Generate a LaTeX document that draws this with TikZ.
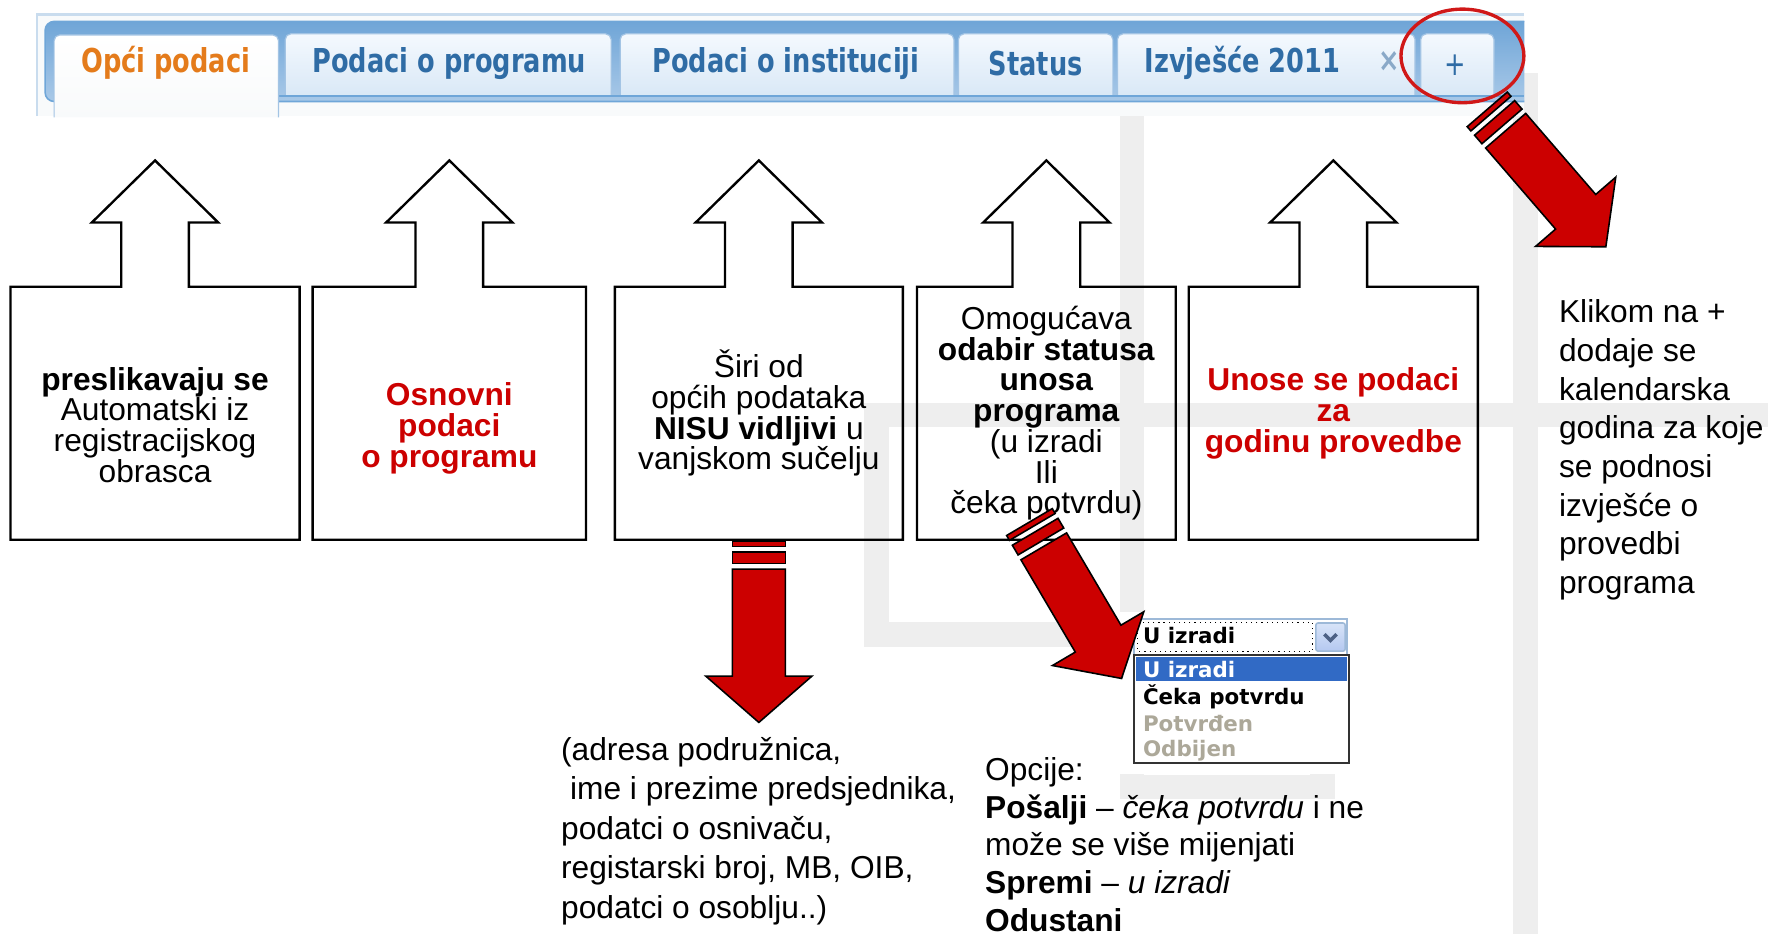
\documentclass[tikz,border=0pt]{standalone}
\usepackage{fontspec}
\setmainfont{Liberation Sans}
\newfontfamily\tabfont[FakeStretch=0.78]{DejaVu Sans}
\newfontfamily\listfont{DejaVu Sans}
\usetikzlibrary{shapes.geometric}
\definecolor{cred}{HTML}{CC0000}
\definecolor{ringred}{HTML}{D01818}
\definecolor{wmgrey}{HTML}{EEEEEE}
\definecolor{scrbg}{HTML}{F8FAFB}
\definecolor{framebl}{HTML}{C9DCEE}
\definecolor{striptop}{HTML}{6FA5D7}
\definecolor{stripbot}{HTML}{A9C9E8}
\definecolor{tabtop}{HTML}{F4F9FE}
\definecolor{tabbot}{HTML}{D9E8F6}
\definecolor{tabedge}{HTML}{A3C4E4}
\definecolor{tabline}{HTML}{6FA6D8}
\definecolor{tabblue}{HTML}{2F6CA5}
\definecolor{taborange}{HTML}{E47B1B}
\definecolor{closegrey}{HTML}{8AA9C8}
\definecolor{selframe}{HTML}{9DB9D8}
\definecolor{selblue}{HTML}{316AC5}
\definecolor{btntop}{HTML}{D8E4F8}
\definecolor{btnbot}{HTML}{B4C8F0}
\definecolor{chevron}{HTML}{4D6185}
\definecolor{offgrey}{HTML}{ACA899}
\newcommand{\boxtxt}{\fontsize{8}{7.75}\selectfont}

\begin{document}
\begin{tikzpicture}[x=0.1mm,y=-0.1mm,
  wm/.style={draw=wmgrey,line width=2.2mm},
  tabbox/.style={draw=tabedge,line width=0.3pt,top color=tabtop,bottom color=tabbot,rounded corners=0.5mm},
  tabtext/.style={font=\tabfont\bfseries\fontsize{8.3}{8.3}\selectfont,text=tabblue,inner sep=0pt},
  callbox/.style={minimum height=22.3mm,inner sep=0pt,align=center,font=\boxtxt},
  callline/.style={draw=black,line width=0.6pt},
  note/.style={inner sep=0pt,align=left,anchor=west},
  rowtext/.style={font=\listfont\bfseries\fontsize{5.4}{5.4}\selectfont,inner sep=0pt,anchor=west},
  stripe/.style={draw=black,line width=0.4pt,fill=cred},
  redarrow/.pic={
    \draw[stripe] (0,-23.5) rectangle (5,23.5);
    \draw[stripe] (10,-23.5) rectangle (20,23.5);
    \draw[stripe] (25,-23.5) -- (120,-23.5) -- (120,-47) -- (161,0) -- (120,47) -- (120,23.5) -- (25,23.5) -- cycle;
  }]
  \useasboundingbox (0,0) rectangle (1568,828);

  \draw[wm] (1004,103) -- (1004,698) -- (1173,698) -- (1173,620);
  \draw[wm] (1004,563) -- (777,563) -- (777,368) -- (1568,368);
  \draw[wm] (1353,65) -- (1353,828);

  \fill[scrbg] (33,13) rectangle (1352,103);
  \draw[framebl,line width=0.6pt] (33,103) -- (33,13) -- (1352,13);
  \draw[draw=tabline,top color=striptop,bottom color=stripbot,rounded corners=0.8mm] (1352,90) -- (40,90) -- (40,19) -- (1352,19);
  \foreach \xa/\xb in {253/542,550/846,850/987,991/1255,1260/1325}
    \draw[tabbox] (\xa,85) -- (\xa,30) -- (\xb,30) -- (\xb,85);
  \draw[tabline,line width=0.6pt] (247,85) -- (1352,85);
  \draw[tabbox,top color=white,bottom color=scrbg] (48,104) -- (48,31) -- (247,31) -- (247,104);

  \node[tabtext,text=taborange] (topci) at (147,56) {Opći podaci};
  \node[tabtext] (tprog) at (398.5,56) {Podaci o programu};
  \node[tabtext] (tinst) at (697,56) {Podaci o instituciji};
  \node[tabtext] (tstat) at (918.5,56) {Status};
  \node[tabtext] (tizv) at (1102,56) {Izvješće 2011};
  \node[tabtext,text=closegrey] (tclose) at (1232,55) {×};
  \node[tabtext,font=\tabfont\fontsize{8.3}{8.3}\selectfont] (tplus) at (1291,58) {+};
  \node[draw=ringred,line width=0.85pt,ellipse,minimum width=10.9mm,minimum height=8.3mm,inner sep=0pt] (ring) at (1297,49.6) {};

  \node[callbox,minimum width=25.5mm] (b1) at (137.5,366.5) {\rule{0pt}{4.1mm}\textbf{preslikavaju se}\\Automatski iz\\registracijskog\\obrasca};
  \node[callbox,minimum width=24.1mm,text=cred,font=\boxtxt\bfseries] (b2) at (398.5,366.5) {\rule{0pt}{4.7mm}Osnovni\\podaci\\o programu};
  \node[callbox,minimum width=25.4mm] (b3) at (673,366.5) {Širi od\\općih podataka\\\textbf{NISU vidljivi} u\\vanjskom sučelju};
  \node[callbox,minimum width=22.8mm] (b4) at (928,366.5) {Omogućava\\\textbf{odabir statusa}\\\textbf{unosa}\\\textbf{programa}\\(u izradi\\Ili\\čeka potvrdu)};
  \node[callbox,minimum width=25.5mm,text=cred,font=\boxtxt\bfseries] (b5) at (1182.5,366.5) {Unose se podaci\\za\\godinu provedbe};
  \foreach \i in {1,...,5}
    \draw[callline] (b\i.south west) -- (b\i.north west) -- ([xshift=-3mm]b\i.north) -- ++(0,-57) -- ++(-26,0)
      -- ++(56,-55) -- ++(56,55) -- ++(-26,0) -- ++(0,57) -- (b\i.north east) -- (b\i.south east) -- cycle;

  \node[note,font=\fontsize{8}{9.75}\selectfont] (nplus) at (1382,399) {Klikom na +\\dodaje se\\kalendarska\\godina za koje\\se podnosi\\izvješće o\\provedbi\\programa};
  \node[note,font=\fontsize{8}{9.95}\selectfont] (naddr) at (497,737) {(adresa podružnica,\\\hspace*{0.28em}ime i prezime predsjednika,\\podatci o osnivaču,\\registarski broj, MB, OIB,\\podatci o osoblju..)};
  \node[note,font=\fontsize{8}{9.5}\selectfont] (nopt) at (873,749) {Opcije:\\\textbf{Pošalji} – \textit{čeka potvrdu} i ne\\može se više mijenjati\\\textbf{Spremi} – \textit{u izradi}\\\textbf{Odustani}};

  \fill[white] (992,543) rectangle (1207,686);
  \node[draw=selframe,line width=0.5pt,minimum width=18.9mm,minimum height=3.15mm,inner sep=0pt] (sel) at (1100.5,564.75) {};
  \draw[densely dotted,line width=0.3pt] (1009,552) rectangle (1164,578);
  \node[draw=selframe,top color=btntop,bottom color=btnbot,minimum width=2.6mm,minimum height=2.5mm,inner sep=0pt,rounded corners=0.2mm] (selbtn) at (1180,565) {};
  \draw[chevron,line width=0.9pt] ([xshift=-0.55mm,yshift=0.25mm]selbtn.center) -- ([yshift=-0.3mm]selbtn.center) -- ([xshift=0.55mm,yshift=0.25mm]selbtn.center);
  \node[rowtext] (selval) at (1013,564) {U izradi};
  \node[draw=black!80,line width=0.5pt,minimum width=19mm,minimum height=9.6mm,inner sep=0pt] (list) at (1101,629) {};
  \fill[selblue] (1007.5,583) rectangle (1194.5,604);
  \node[rowtext,text=white] (r1) at (1013,593.5) {U izradi};
  \node[rowtext] (r2) at (1013,618) {Čeka potvrdu};
  \node[rowtext,text=offgrey] (r3) at (1013,642) {Potvrđen};
  \node[rowtext,text=offgrey] (r4) at (1013,666) {Odbijen};

  \coordinate (a2) at (913,463);
  \coordinate (a3) at (1319,97);
  \pic[rotate=-90] at ([yshift=-0.1mm]b3.south) {redarrow};
  \pic[rotate=-59.5] at (a2) {redarrow};
  \pic[rotate=-49.2] at (a3) {redarrow};
\end{tikzpicture}
\end{document}
